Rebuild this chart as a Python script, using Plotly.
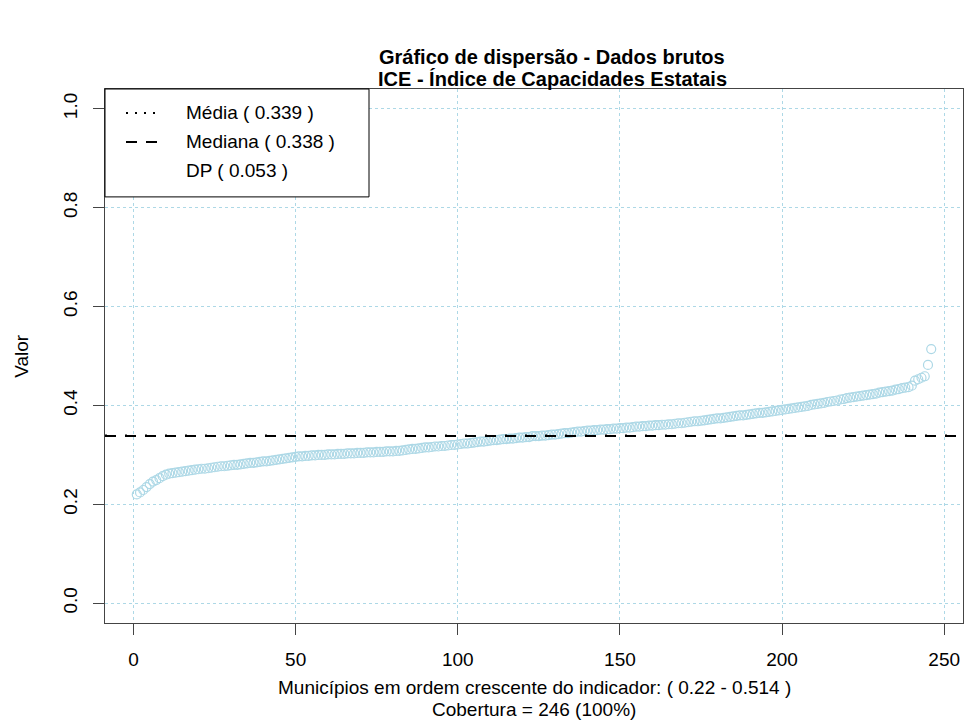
import plotly.graph_objects as go

# ---- data ----
values = [
    0.220, 0.224, 0.229, 0.235, 0.241, 0.246, 0.249, 0.253, 0.257, 0.260,
    0.262, 0.263, 0.264, 0.265, 0.266, 0.267, 0.268, 0.269, 0.270, 0.271,
    0.272, 0.272, 0.273, 0.274, 0.275, 0.276, 0.277, 0.277, 0.278, 0.279,
    0.280, 0.280, 0.281, 0.282, 0.283, 0.284, 0.284, 0.285, 0.286, 0.287,
    0.287, 0.288, 0.289, 0.290, 0.291, 0.292, 0.293, 0.294, 0.295, 0.296,
    0.297, 0.297, 0.298, 0.298, 0.299, 0.299, 0.300, 0.300, 0.300, 0.301,
    0.301, 0.301, 0.302, 0.302, 0.302, 0.303, 0.303, 0.303, 0.304, 0.304,
    0.304, 0.305, 0.305, 0.305, 0.306, 0.306, 0.306, 0.307, 0.307, 0.307,
    0.308, 0.308, 0.309, 0.310, 0.311, 0.312, 0.312, 0.313, 0.314, 0.315,
    0.315, 0.316, 0.317, 0.317, 0.318, 0.318, 0.319, 0.320, 0.320, 0.321,
    0.322, 0.323, 0.323, 0.324, 0.325, 0.326, 0.327, 0.327, 0.328, 0.329,
    0.330, 0.330, 0.331, 0.332, 0.332, 0.333, 0.333, 0.334, 0.335, 0.335,
    0.336, 0.336, 0.338, 0.338, 0.338, 0.339, 0.339, 0.340, 0.341, 0.341,
    0.342, 0.343, 0.344, 0.344, 0.345, 0.346, 0.347, 0.347, 0.348, 0.349,
    0.349, 0.350, 0.350, 0.351, 0.351, 0.352, 0.352, 0.353, 0.353, 0.354,
    0.354, 0.355, 0.355, 0.356, 0.357, 0.357, 0.358, 0.358, 0.359, 0.359,
    0.360, 0.360, 0.361, 0.361, 0.362, 0.362, 0.363, 0.364, 0.364, 0.365,
    0.366, 0.367, 0.368, 0.368, 0.369, 0.370, 0.371, 0.372, 0.373, 0.374,
    0.374, 0.375, 0.376, 0.377, 0.378, 0.379, 0.380, 0.380, 0.381, 0.382,
    0.383, 0.384, 0.385, 0.385, 0.386, 0.387, 0.388, 0.389, 0.390, 0.391,
    0.392, 0.393, 0.394, 0.395, 0.396, 0.397, 0.398, 0.399, 0.401, 0.402,
    0.403, 0.404, 0.405, 0.407, 0.408, 0.409, 0.410, 0.412, 0.413, 0.415,
    0.416, 0.417, 0.418, 0.419, 0.420, 0.421, 0.422, 0.423, 0.424, 0.426,
    0.427, 0.428, 0.429, 0.430, 0.432, 0.433, 0.435, 0.436, 0.437, 0.440,
    0.450, 0.453, 0.456, 0.459, 0.482, 0.514,
]
index = list(range(1, len(values) + 1))

mean_value = 0.339
median_value = 0.338
sd_value = 0.053

x_ticks = [0, 50, 100, 150, 200, 250]
y_ticks = [0.0, 0.2, 0.4, 0.6, 0.8, 1.0]
y_tick_labels = ["0.0", "0.2", "0.4", "0.6", "0.8", "1.0"]

title_line1 = "Gráfico de dispersão - Dados brutos"
title_line2 = "ICE - Índice de Capacidades Estatais"
x_label_line1 = "Municípios em ordem crescente do indicador: ( 0.22 - 0.514 )"
x_label_line2 = "Cobertura = 246 (100%)"
y_label = "Valor"
legend_labels = [
    "Média ( %.3f )" % mean_value,
    "Mediana ( %.3f )" % median_value,
    "DP ( %.3f )" % sd_value,
]

# ---- layout geometry (pixels) ----
W, H = 964, 720
L, R, T, B = 105, 963, 89, 623.5
PW, PH = R - L, B - T


def px(xp):
    return (xp - L) / PW


def py(yp):
    return (B - yp) / PH


FONT = "Liberation Sans, Arial, sans-serif"
FS = 19
GRID = "#ADD8E6"
DOT = "2px,18px"
DASH = "11px,9px"

fig = go.Figure()
fig.add_trace(go.Scatter(
    x=index, y=values, mode="markers",
    marker=dict(symbol="circle-open", size=9, color=GRID,
                line=dict(width=1.2, color=GRID)),
    showlegend=False, hoverinfo="x+y",
))

shapes = []
# mean (dotted) and median (dashed) lines across plot region
shapes.append(dict(type="line", xref="paper", yref="y", x0=0, x1=1,
                   y0=mean_value, y1=mean_value,
                   line=dict(color="black", width=2, dash=DOT)))
shapes.append(dict(type="line", xref="paper", yref="y", x0=0, x1=1,
                   y0=median_value, y1=median_value,
                   line=dict(color="black", width=2, dash=DASH)))
# legend box
shapes.append(dict(type="rect", xref="paper", yref="paper",
                   x0=px(105), x1=px(369), y0=py(197), y1=py(89),
                   line=dict(color="black", width=1), fillcolor="white",
                   layer="above"))
shapes.append(dict(type="line", xref="paper", yref="paper",
                   x0=px(126), x1=px(161), y0=py(113), y1=py(113),
                   line=dict(color="black", width=2, dash="2px,7px"),
                   layer="above"))
shapes.append(dict(type="line", xref="paper", yref="paper",
                   x0=px(126), x1=px(161), y0=py(142), y1=py(142),
                   line=dict(color="black", width=2, dash="11px,9px"),
                   layer="above"))

annotations = []
for lab, yy in zip(legend_labels, [113, 142, 171]):
    annotations.append(dict(text=lab, xref="paper", yref="paper",
                            x=px(184), y=py(yy), xanchor="left", yanchor="middle",
                            showarrow=False, font=dict(size=FS, family=FONT, color="black")))
annotations.append(dict(text="<b>%s</b>" % title_line1, xref="paper", yref="paper",
                        x=px(552), y=py(57), xanchor="center", yanchor="middle",
                        showarrow=False, font=dict(size=20, family=FONT, color="black")))
annotations.append(dict(text="<b>%s</b>" % title_line2, xref="paper", yref="paper",
                        x=px(552), y=py(79), xanchor="center", yanchor="middle",
                        showarrow=False, font=dict(size=20, family=FONT, color="black")))
annotations.append(dict(text=x_label_line1, xref="paper", yref="paper",
                        x=px(534), y=py(688), xanchor="center", yanchor="middle",
                        showarrow=False, font=dict(size=FS, family=FONT, color="black")))
annotations.append(dict(text=x_label_line2, xref="paper", yref="paper",
                        x=px(534), y=py(710), xanchor="center", yanchor="middle",
                        showarrow=False, font=dict(size=FS, family=FONT, color="black")))
annotations.append(dict(text=y_label, xref="paper", yref="paper",
                        x=px(22), y=py(356), xanchor="center", yanchor="middle",
                        textangle=-90, showarrow=False,
                        font=dict(size=FS, family=FONT, color="black")))

fig.update_layout(
    width=W, height=H,
    margin=dict(l=L, r=W - R, t=T, b=H - B, pad=0),
    paper_bgcolor="white", plot_bgcolor="white",
    font=dict(family=FONT, size=FS, color="black"),
    shapes=shapes, annotations=annotations,
    showlegend=False,
)
fig.update_xaxes(
    range=[-8.8, 255.8], tickvals=x_ticks, ticks="outside", ticklen=11,
    tickwidth=1, tickcolor="#444", showline=True, linecolor="#444", linewidth=1,
    mirror=True, showgrid=True, gridcolor=GRID, griddash="dot", gridwidth=1,
    zeroline=False, ticklabelstandoff=8,
    tickfont=dict(size=FS, family=FONT, color="black"),
)
fig.update_yaxes(
    range=[-0.04, 1.04], tickvals=y_ticks, ticktext=y_tick_labels,
    ticks="outside", ticklen=11, tickwidth=1, tickcolor="#444", tickangle=-90,
    showline=True, linecolor="#444", linewidth=1, mirror=True,
    showgrid=True, gridcolor=GRID, griddash="dot", gridwidth=1,
    zeroline=False, ticklabelstandoff=8,
    tickfont=dict(size=FS, family=FONT, color="black"),
)

fig.write_html(
    "out.html",
    config={"displayModeBar": False},
    post_script="document.body.style.margin='0px';document.body.style.overflow='hidden';",
)
